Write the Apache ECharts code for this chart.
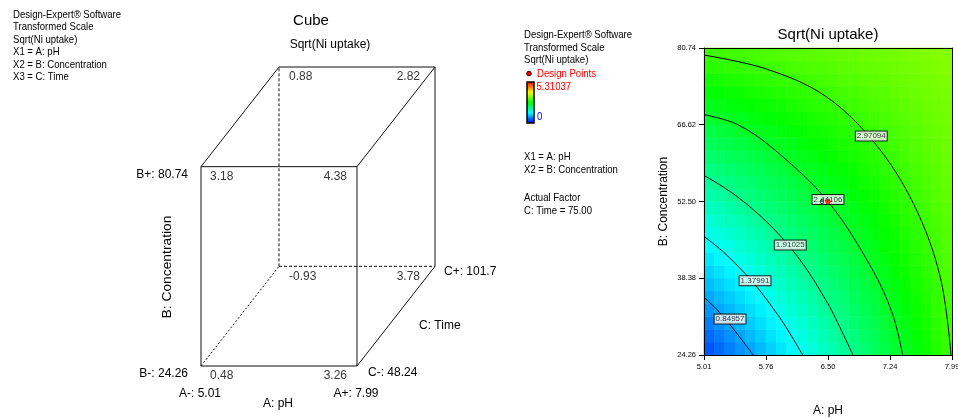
<!DOCTYPE html>
<html><head><meta charset="utf-8">
<script src="https://cdn.jsdelivr.net/npm/echarts@6/dist/echarts.min.js"></script>
<style>html,body{margin:0;padding:0;background:#fff}#c{width:958px;height:418px}</style>
</head><body><div id="c"></div>
<script>
// ---------------- Cube plot data (coded corners) ----------------
const cubeA = [-1, 1, -1, 1, -1, 1, -1, 1];
const cubeB = [-1, -1, 1, 1, -1, -1, 1, 1];
const cubeC = [-1, -1, -1, -1, 1, 1, 1, 1];
const cubeValues = ['0.48', '3.26', '3.18', '4.38', '-0.93', '3.78', '0.88', '2.82'];
const cubeEdges = [[0,1,'solid'],[1,3,'solid'],[3,2,'solid'],[2,0,'solid'],[6,7,'solid'],[7,5,'solid'],
                   [2,6,'solid'],[3,7,'solid'],[1,5,'solid'],[4,6,'dashed'],[4,5,'dashed'],[0,4,'dotted']];
const factorNames = ['A: pH', 'B: Concentration', 'C: Time'];
const factorLowLabels = ['A-: 5.01', 'B-: 24.26', 'C-: 48.24'];
const factorHighLabels = ['A+: 7.99', 'B+: 80.74', 'C+: 101.7'];

// ---------------- Contour plot data ----------------
const phTicks = [5.01, 5.755, 6.50, 7.245, 7.99];
const phTickLabels = ['5.01', '5.76', '6.50', '7.24', '7.99'];
const concTicks = [24.26, 38.38, 52.50, 66.62, 80.74];
const concTickLabels = ['24.26', '38.38', '52.50', '66.62', '80.74'];
const scaleMin = 0, scaleMax = 5.31037;
const contourLevels = ['0.84957', '1.37991', '1.91025', '2.44106', '2.97094'];
const contour1 = [[5.01,34.9],[5.159,32.7],[5.308,30.1],[5.457,27.2],[5.60,24.26]];
const contour2 = [[5.01,46.1],[5.159,44.3],[5.308,42.3],[5.606,37.5],[5.904,31.5],[6.053,27.95],[6.196,24.26]];
const contour3 = [[5.01,57.3],[5.308,54.5],[5.606,50.95],[5.904,46.55],[6.202,40.96],[6.50,33.68],[6.649,29.16],[6.80,24.26]];
const contour4 = [[5.01,68.48],[5.405,66.72],[5.84,62.25],[6.50,52.50],[7.029,40.11],[7.275,31.83],[7.397,24.26]];
const contour5 = [[5.01,79.44],[5.754,76.91],[6.463,71.95],[7.064,63.20],[7.534,51.88],[7.848,38.67],[7.978,24.26]];
const contourLabelAt = [[5.323,30.87],[5.623,37.93],[6.047,44.49],[6.50,52.87],[7.02,64.55]];
const designPoint = [6.50, 52.50];
const designCount = '6';
// Sqrt(Ni uptake) surface read on a 24 x 24 grid (rows: low -> high concentration, cols: low -> high pH)
const surfaceRows = [
[0.44,0.55,0.66,0.77,0.87,0.98,1.09,1.20,1.31,1.42,1.52,1.63,1.74,1.85,1.96,2.07,2.17,2.28,2.39,2.50,2.61,2.72,2.83,2.93],
[0.55,0.65,0.76,0.86,0.97,1.07,1.18,1.28,1.39,1.49,1.59,1.70,1.80,1.91,2.01,2.12,2.22,2.33,2.43,2.53,2.64,2.74,2.85,2.95],
[0.66,0.76,0.86,0.96,1.06,1.16,1.26,1.36,1.46,1.56,1.66,1.76,1.86,1.96,2.07,2.17,2.27,2.37,2.47,2.57,2.67,2.77,2.87,2.97],
[0.77,0.87,0.96,1.06,1.15,1.25,1.35,1.44,1.54,1.64,1.73,1.83,1.93,2.02,2.12,2.22,2.31,2.41,2.50,2.60,2.70,2.79,2.89,2.99],
[0.88,0.97,1.06,1.16,1.25,1.34,1.43,1.53,1.62,1.71,1.80,1.90,1.99,2.08,2.17,2.27,2.36,2.45,2.54,2.64,2.73,2.82,2.91,3.01],
[0.99,1.08,1.17,1.25,1.34,1.43,1.52,1.61,1.70,1.78,1.87,1.96,2.05,2.14,2.23,2.32,2.40,2.49,2.58,2.67,2.76,2.85,2.93,3.02],
[1.10,1.18,1.27,1.35,1.44,1.52,1.60,1.69,1.77,1.86,1.94,2.03,2.11,2.20,2.28,2.36,2.45,2.53,2.62,2.70,2.79,2.87,2.96,3.04],
[1.21,1.29,1.37,1.45,1.53,1.61,1.69,1.77,1.85,1.93,2.01,2.09,2.17,2.25,2.33,2.41,2.50,2.58,2.66,2.74,2.82,2.90,2.98,3.06],
[1.32,1.39,1.47,1.55,1.62,1.70,1.78,1.85,1.93,2.01,2.08,2.16,2.24,2.31,2.39,2.46,2.54,2.62,2.69,2.77,2.85,2.92,3.00,3.08],
[1.43,1.50,1.57,1.64,1.72,1.79,1.86,1.93,2.01,2.08,2.15,2.22,2.30,2.37,2.44,2.51,2.59,2.66,2.73,2.80,2.88,2.95,3.02,3.09],
[1.54,1.61,1.67,1.74,1.81,1.88,1.95,2.02,2.08,2.15,2.22,2.29,2.36,2.43,2.50,2.56,2.63,2.70,2.77,2.84,2.91,2.98,3.04,3.11],
[1.65,1.71,1.78,1.84,1.90,1.97,2.03,2.10,2.16,2.23,2.29,2.36,2.42,2.48,2.55,2.61,2.68,2.74,2.81,2.87,2.94,3.00,3.07,3.13],
[1.76,1.82,1.88,1.94,2.00,2.06,2.12,2.18,2.24,2.30,2.36,2.42,2.48,2.54,2.60,2.66,2.72,2.78,2.85,2.91,2.97,3.03,3.09,3.15],
[1.87,1.92,1.98,2.04,2.09,2.15,2.20,2.26,2.32,2.37,2.43,2.49,2.54,2.60,2.66,2.71,2.77,2.83,2.88,2.94,3.00,3.05,3.11,3.17],
[1.98,2.03,2.08,2.13,2.19,2.24,2.29,2.34,2.40,2.45,2.50,2.55,2.61,2.66,2.71,2.76,2.82,2.87,2.92,2.97,3.03,3.08,3.13,3.18],
[2.09,2.13,2.18,2.23,2.28,2.33,2.38,2.42,2.47,2.52,2.57,2.62,2.67,2.72,2.76,2.81,2.86,2.91,2.96,3.01,3.06,3.10,3.15,3.20],
[2.19,2.24,2.28,2.33,2.37,2.42,2.46,2.51,2.55,2.60,2.64,2.68,2.73,2.77,2.82,2.86,2.91,2.95,3.00,3.04,3.09,3.13,3.17,3.22],
[2.30,2.34,2.39,2.43,2.47,2.51,2.55,2.59,2.63,2.67,2.71,2.75,2.79,2.83,2.87,2.91,2.95,2.99,3.03,3.07,3.12,3.16,3.20,3.24],
[2.41,2.45,2.49,2.52,2.56,2.60,2.63,2.67,2.71,2.74,2.78,2.82,2.85,2.89,2.93,2.96,3.00,3.04,3.07,3.11,3.15,3.18,3.22,3.25],
[2.52,2.56,2.59,2.62,2.65,2.69,2.72,2.75,2.78,2.82,2.85,2.88,2.91,2.95,2.98,3.01,3.04,3.08,3.11,3.14,3.17,3.21,3.24,3.27],
[2.63,2.66,2.69,2.72,2.75,2.78,2.80,2.83,2.86,2.89,2.92,2.95,2.98,3.00,3.03,3.06,3.09,3.12,3.15,3.18,3.20,3.23,3.26,3.29],
[2.74,2.77,2.79,2.82,2.84,2.87,2.89,2.92,2.94,2.96,2.99,3.01,3.04,3.06,3.09,3.11,3.14,3.16,3.19,3.21,3.23,3.26,3.28,3.31],
[2.85,2.87,2.89,2.91,2.94,2.96,2.98,3.00,3.02,3.04,3.06,3.08,3.10,3.12,3.14,3.16,3.18,3.20,3.22,3.24,3.26,3.28,3.31,3.33],
[2.96,2.98,3.00,3.01,3.03,3.05,3.06,3.08,3.10,3.11,3.13,3.14,3.16,3.18,3.19,3.21,3.23,3.24,3.26,3.28,3.29,3.31,3.33,3.34]
];

// ---------------- Build ----------------
const FR = "'Liberation Sans',Arial,sans-serif";
const chart = echarts.init(document.getElementById('c'), null, {renderer: 'canvas', width: 958, height: 418});

function proj(i) { // oblique projection of the coded cube onto the hidden cube axes
  return [(cubeA[i] + 1) / 2 + (cubeC[i] + 1) / 4, (cubeB[i] + 1) / 2 + (cubeC[i] + 1) / 4];
}
const dashMap = {solid: 'solid', dashed: [3, 2], dotted: [2, 2]};
const series = [];

// heatmap surface
const heatData = [];
surfaceRows.forEach((row, j) => row.forEach((v, i) => heatData.push([i, j, v])));
series.push({type: 'heatmap', xAxisIndex: 3, yAxisIndex: 3, data: heatData, silent: true, z: 1,
  itemStyle: {borderWidth: 0}, emphasis: {disabled: true}});

// contour lines
[contour1, contour2, contour3, contour4, contour5].forEach(c => {
  series.push({type: 'line', xAxisIndex: 1, yAxisIndex: 1, data: c, smooth: 0.35, symbol: 'none', silent: true,
    clip: true, z: 3, lineStyle: {color: '#000', width: 1}});
});
// contour labels
series.push({type: 'scatter', xAxisIndex: 1, yAxisIndex: 1, symbolSize: 0, silent: true, z: 5,
  data: contourLabelAt.map((p, k) => ({value: p, name: contourLevels[k]})),
  label: {show: true, position: 'inside', formatter: p => p.name, fontSize: 8, fontFamily: FR, color: '#000',
    backgroundColor: '#fff', borderColor: '#000', borderWidth: 1, padding: [1, 1, 0, 1]}});
// design point
series.push({type: 'scatter', xAxisIndex: 1, yAxisIndex: 1, symbolSize: 5, silent: true, z: 6,
  data: [designPoint], itemStyle: {color: '#ff0000', borderColor: '#800000', borderWidth: 0.5},
  label: {show: true, position: 'left', distance: 1, formatter: designCount, fontSize: 8, fontWeight: 'bold', color: '#000', fontFamily: FR}});

// cube edges
cubeEdges.forEach(e => {
  series.push({type: 'line', xAxisIndex: 0, yAxisIndex: 0, data: [proj(e[0]), proj(e[1])], symbol: 'none', silent: true,
    clip: false, lineStyle: {color: '#111', width: 1, type: dashMap[e[2]]}});
});
// cube corner values
series.push({type: 'scatter', xAxisIndex: 0, yAxisIndex: 0, symbolSize: 0, silent: true, z: 5,
  data: cubeValues.map((v, i) => {
    const back = cubeC[i] > 0, left = cubeA[i] < 0;
    return {value: proj(i), name: v, label: {position: left ? [back ? 10 : 9, 4] : [back ? -15 : -10, 4], align: left ? 'left' : 'right'}};
  }),
  label: {show: true, formatter: p => p.name, fontSize: 12, fontFamily: FR, color: '#000', verticalAlign: 'top'}});

function txt(text, x, y, size, opt) {
  opt = opt || {};
  return {type: 'text', x: x, y: y, rotation: opt.rot || 0, scaleX: opt.sx || 1, z: 100, silent: true,
    style: {text: text, fill: opt.color || '#000', font: (opt.weight || 'normal') + ' ' + size + 'px ' + FR,
      align: opt.align || 'left', verticalAlign: 'middle'}};
}
const NS = 0.87; // condensed info text
const graphics = [];
// left info block
['Design-Expert\u00ae Software', 'Transformed Scale', 'Sqrt(Ni uptake)', 'X1 = ' + factorNames[0], 'X2 = ' + factorNames[1], 'X3 = ' + factorNames[2]]
  .forEach((s, k) => graphics.push(txt(s, 13, 15 + k * 12.4, 11, {sx: NS})));
// cube titles and factor labels
graphics.push(txt('Cube', 311, 21, 15, {align: 'center'}));
graphics.push(txt('Sqrt(Ni uptake)', 330, 44.5, 12, {align: 'center'}));
graphics.push(txt(factorHighLabels[1], 188, 175, 12, {align: 'right'}));
graphics.push(txt(factorLowLabels[1], 188, 374, 12, {align: 'right'}));
graphics.push(txt(factorLowLabels[0], 200, 394, 12, {align: 'center'}));
graphics.push(txt(factorHighLabels[0], 356, 394, 12, {align: 'center'}));
graphics.push(txt(factorNames[0], 278, 404, 12, {align: 'center'}));
graphics.push(txt(factorLowLabels[2], 368, 373, 12));
graphics.push(txt(factorHighLabels[2], 444, 272, 12));
graphics.push(txt(factorNames[2], 419, 326, 12));
graphics.push(txt(factorNames[1], 168, 267, 12, {align: 'center', rot: Math.PI / 2, sx: 1.15}));
// middle legend block
graphics.push(txt('Design-Expert\u00ae Software', 524, 35, 11, {sx: NS}));
graphics.push(txt('Transformed Scale', 524, 47.5, 11, {sx: NS}));
graphics.push(txt('Sqrt(Ni uptake)', 524, 60, 11, {sx: NS}));
graphics.push({type: 'circle', shape: {cx: 529, cy: 73.5, r: 2.3}, style: {fill: '#ff0000', stroke: '#400000', lineWidth: 1}, z: 100, silent: true});
graphics.push(txt('Design Points', 537, 73.5, 11, {sx: NS, color: '#ff0000'}));
graphics.push(txt(scaleMax.toFixed(5), 536.5, 87, 11, {sx: NS, color: '#ff0000'}));
graphics.push(txt(String(scaleMin), 537, 117, 11, {sx: NS, color: '#0000ff'}));
graphics.push({type: 'rect', shape: {x: 527, y: 82, width: 7, height: 41}, style: {fill: null, stroke: '#000', lineWidth: 1.5}, z: 100, silent: true});
graphics.push(txt('X1 = ' + factorNames[0], 524, 157, 11, {sx: NS}));
graphics.push(txt('X2 = ' + factorNames[1], 524, 170, 11, {sx: NS}));
graphics.push(txt('Actual Factor', 524, 197.5, 11, {sx: NS}));
graphics.push(txt('C: Time = 75.00', 524, 210.5, 11, {sx: NS}));
// contour plot title
graphics.push(txt('Sqrt(Ni uptake)', 828, 35, 15, {align: 'center'}));

const nGrid = surfaceRows.length;
const cats = Array.from({length: nGrid}, (_, i) => i);
const PG = {left: 704, top: 48, width: 248, height: 307, containLabel: false, outerBoundsMode: 'none'};
const tickStyle = {color: '#000', width: 1};

const option = {
  animation: false,
  backgroundColor: '#fff',
  grid: [
    {left: 201, top: 67, width: 234, height: 299, containLabel: false, outerBoundsMode: 'none'},
    Object.assign({}, PG),
    Object.assign({}, PG)
  ],
  xAxis: [
    {gridIndex: 0, type: 'value', min: 0, max: 1.5, show: false},
    {gridIndex: 1, type: 'value', min: phTicks[0], max: phTicks[phTicks.length - 1], position: 'bottom', z: 10,
      axisLine: {show: true, onZero: false, lineStyle: tickStyle},
      axisTick: {show: true, customValues: phTicks, length: 5, lineStyle: tickStyle},
      axisLabel: {customValues: phTicks, fontSize: 7.5, fontFamily: FR, color: '#000', margin: 8,
        formatter: v => phTickLabels[phTicks.findIndex(t => Math.abs(t - v) < 1e-6)]},
      splitLine: {show: false},
      name: factorNames[0], nameLocation: 'middle', nameGap: 50, nameTextStyle: {fontSize: 12, color: '#000', fontFamily: FR}},
    {gridIndex: 1, type: 'value', min: phTicks[0], max: phTicks[phTicks.length - 1], position: 'top', z: 10,
      axisLine: {show: true, onZero: false, lineStyle: tickStyle}, axisTick: {show: false}, axisLabel: {show: false}, splitLine: {show: false}},
    {gridIndex: 2, type: 'category', data: cats, show: false}
  ],
  yAxis: [
    {gridIndex: 0, type: 'value', min: 0, max: 1.5, show: false},
    {gridIndex: 1, type: 'value', min: concTicks[0], max: concTicks[concTicks.length - 1], position: 'left', z: 10,
      axisLine: {show: true, onZero: false, lineStyle: tickStyle},
      axisTick: {show: true, customValues: concTicks, length: 5, lineStyle: tickStyle},
      axisLabel: {customValues: concTicks, fontSize: 7.5, fontFamily: FR, color: '#000', margin: 8,
        formatter: v => concTickLabels[concTicks.findIndex(t => Math.abs(t - v) < 1e-6)]},
      splitLine: {show: false},
      name: factorNames[1], nameLocation: 'middle', nameGap: 34, nameRotate: 90, nameTextStyle: {fontSize: 12, color: '#000', fontFamily: FR}},
    {gridIndex: 1, type: 'value', min: concTicks[0], max: concTicks[concTicks.length - 1], position: 'right', z: 10,
      axisLine: {show: true, onZero: false, lineStyle: tickStyle}, axisTick: {show: false}, axisLabel: {show: false}, splitLine: {show: false}},
    {gridIndex: 2, type: 'category', data: cats, show: false}
  ],
  visualMap: [{
    type: 'continuous', min: scaleMin, max: scaleMax, dimension: 2, seriesIndex: 0,
    inRange: {color: ['#0000ff', '#00ffff', '#00ff00', '#ffff00', '#ff0000']},
    left: 527, top: 82, itemWidth: 7, itemHeight: 41, padding: 0, calculable: false, hoverLink: false,
    orient: 'vertical', text: null
  }],
  graphic: graphics,
  series: series
};
chart.setOption(option);
</script>
</body></html>
